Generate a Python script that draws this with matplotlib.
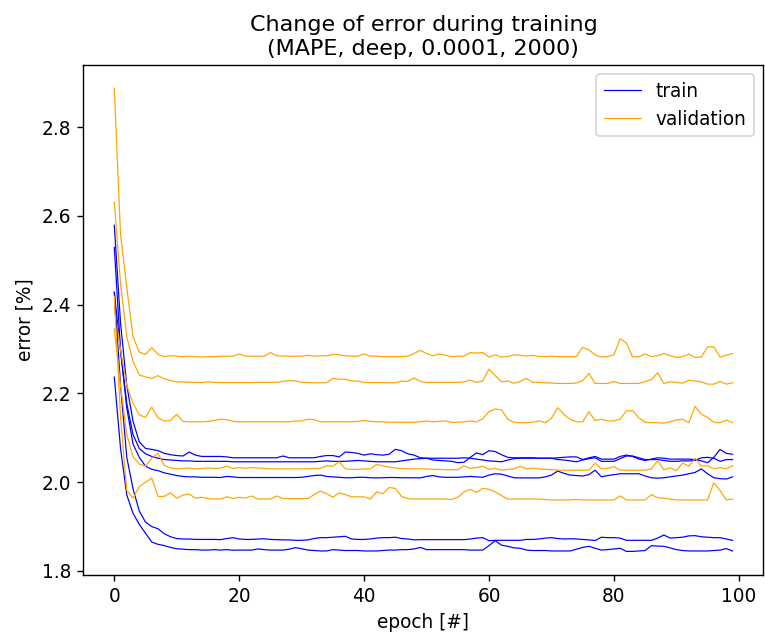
'''
    error curves of the repeated training runs
'''

import numpy as np
import matplotlib
matplotlib.use("Agg")
import matplotlib.pyplot as plt


# epochs of each run
epochs = list(range(100))

# training error per run [%]
train_1 = [2.579, 2.358, 2.218, 2.137, 2.091, 2.076, 2.074, 2.071, 2.065, 2.062,
           2.060, 2.059, 2.068, 2.061, 2.058, 2.058, 2.058, 2.058, 2.057, 2.055,
           2.055, 2.055, 2.055, 2.055, 2.055, 2.055, 2.055, 2.059, 2.055, 2.055,
           2.055, 2.055, 2.055, 2.058, 2.060, 2.060, 2.057, 2.068, 2.067, 2.065,
           2.061, 2.064, 2.062, 2.061, 2.063, 2.074, 2.071, 2.064, 2.061, 2.055,
           2.054, 2.050, 2.049, 2.048, 2.047, 2.044, 2.045, 2.056, 2.066, 2.062,
           2.071, 2.069, 2.062, 2.056, 2.055, 2.055, 2.055, 2.055, 2.054, 2.054,
           2.054, 2.055, 2.056, 2.057, 2.057, 2.051, 2.055, 2.058, 2.052, 2.052,
           2.052, 2.058, 2.061, 2.058, 2.052, 2.049, 2.052, 2.055, 2.054, 2.052,
           2.052, 2.052, 2.052, 2.051, 2.048, 2.044, 2.056, 2.074, 2.065, 2.063]
train_2 = [2.428, 2.297, 2.177, 2.107, 2.076, 2.064, 2.058, 2.054, 2.051, 2.050,
           2.049, 2.048, 2.048, 2.047, 2.047, 2.047, 2.047, 2.047, 2.047, 2.046,
           2.046, 2.046, 2.046, 2.046, 2.046, 2.046, 2.046, 2.046, 2.046, 2.046,
           2.046, 2.046, 2.046, 2.047, 2.048, 2.047, 2.047, 2.047, 2.048, 2.049,
           2.048, 2.047, 2.046, 2.046, 2.046, 2.046, 2.048, 2.050, 2.052, 2.053,
           2.054, 2.054, 2.054, 2.054, 2.054, 2.054, 2.055, 2.054, 2.052, 2.050,
           2.048, 2.047, 2.046, 2.050, 2.053, 2.054, 2.054, 2.054, 2.054, 2.054,
           2.054, 2.051, 2.050, 2.048, 2.046, 2.050, 2.053, 2.055, 2.047, 2.047,
           2.047, 2.053, 2.059, 2.059, 2.055, 2.051, 2.051, 2.051, 2.049, 2.047,
           2.047, 2.048, 2.048, 2.049, 2.055, 2.056, 2.054, 2.047, 2.051, 2.051]
train_3 = [2.529, 2.298, 2.167, 2.086, 2.056, 2.036, 2.029, 2.026, 2.021, 2.018,
           2.015, 2.013, 2.012, 2.012, 2.011, 2.011, 2.011, 2.0105, 2.013, 2.012,
           2.0105, 2.0105, 2.0105, 2.0105, 2.0105, 2.0105, 2.0105, 2.0105, 2.0105, 2.0105,
           2.011, 2.013, 2.015, 2.016, 2.013, 2.012, 2.011, 2.010, 2.010, 2.011,
           2.011, 2.010, 2.0097, 2.010, 2.0105, 2.0105, 2.010, 2.010, 2.010, 2.0097,
           2.013, 2.015, 2.012, 2.011, 2.011, 2.011, 2.012, 2.013, 2.012, 2.011,
           2.016, 2.019, 2.018, 2.014, 2.010, 2.0097, 2.0097, 2.0097, 2.0097, 2.012,
           2.016, 2.025, 2.020, 2.016, 2.015, 2.014, 2.017, 2.027, 2.012, 2.015,
           2.017, 2.019, 2.019, 2.019, 2.019, 2.014, 2.010, 2.009, 2.010, 2.012,
           2.014, 2.016, 2.019, 2.022, 2.030, 2.019, 2.010, 2.008, 2.007, 2.012]
train_4 = [2.428, 2.218, 2.056, 1.985, 1.935, 1.910, 1.900, 1.895, 1.884, 1.877,
           1.873, 1.872, 1.872, 1.871, 1.871, 1.871, 1.871, 1.8705, 1.873, 1.875,
           1.872, 1.871, 1.871, 1.872, 1.8725, 1.871, 1.8705, 1.870, 1.870, 1.869,
           1.869, 1.870, 1.873, 1.875, 1.875, 1.876, 1.877, 1.878, 1.872, 1.871,
           1.871, 1.872, 1.874, 1.875, 1.875, 1.876, 1.873, 1.872, 1.870, 1.8705,
           1.8705, 1.8705, 1.8705, 1.8705, 1.8705, 1.8705, 1.8705, 1.872, 1.874, 1.875,
           1.868, 1.869, 1.869, 1.869, 1.869, 1.869, 1.871, 1.871, 1.872, 1.874,
           1.875, 1.873, 1.872, 1.8725, 1.872, 1.871, 1.870, 1.8685, 1.876, 1.875,
           1.875, 1.874, 1.869, 1.869, 1.869, 1.869, 1.869, 1.874, 1.881, 1.874,
           1.875, 1.876, 1.879, 1.8795, 1.877, 1.876, 1.875, 1.875, 1.872, 1.869]
train_5 = [2.237, 2.076, 1.971, 1.930, 1.905, 1.885, 1.865, 1.860, 1.857, 1.853,
           1.850, 1.849, 1.848, 1.848, 1.847, 1.847, 1.848, 1.847, 1.848, 1.8466,
           1.847, 1.847, 1.847, 1.8495, 1.848, 1.847, 1.847, 1.847, 1.849, 1.8525,
           1.850, 1.847, 1.846, 1.845, 1.845, 1.848, 1.847, 1.846, 1.846, 1.846,
           1.845, 1.845, 1.845, 1.846, 1.847, 1.847, 1.848, 1.848, 1.8495, 1.853,
           1.848, 1.848, 1.848, 1.848, 1.848, 1.848, 1.848, 1.847, 1.847, 1.847,
           1.857, 1.8683, 1.858, 1.8555, 1.852, 1.851, 1.847, 1.846, 1.846, 1.846,
           1.845, 1.845, 1.845, 1.845, 1.849, 1.853, 1.8555, 1.851, 1.847, 1.848,
           1.8495, 1.851, 1.844, 1.844, 1.845, 1.846, 1.857, 1.856, 1.8555, 1.852,
           1.848, 1.846, 1.845, 1.845, 1.845, 1.845, 1.846, 1.847, 1.8503, 1.845]

# validation error per run [%]
val_1 = [2.888, 2.558, 2.438, 2.328, 2.293, 2.288, 2.303, 2.288, 2.283, 2.285,
         2.284, 2.283, 2.284, 2.283, 2.282, 2.283, 2.283, 2.284, 2.284, 2.284,
         2.289, 2.284, 2.284, 2.284, 2.284, 2.292, 2.285, 2.284, 2.284, 2.284,
         2.284, 2.286, 2.284, 2.285, 2.285, 2.288, 2.287, 2.285, 2.284, 2.284,
         2.289, 2.284, 2.284, 2.283, 2.283, 2.283, 2.283, 2.284, 2.290, 2.297,
         2.290, 2.285, 2.289, 2.286, 2.283, 2.284, 2.284, 2.292, 2.291, 2.292,
         2.282, 2.287, 2.282, 2.283, 2.287, 2.286, 2.284, 2.286, 2.283, 2.283,
         2.284, 2.283, 2.283, 2.283, 2.283, 2.304, 2.298, 2.287, 2.282, 2.283,
         2.287, 2.323, 2.314, 2.282, 2.283, 2.289, 2.283, 2.285, 2.290, 2.285,
         2.281, 2.283, 2.289, 2.281, 2.282, 2.305, 2.305, 2.282, 2.286, 2.290]
val_2 = [2.631, 2.448, 2.328, 2.272, 2.242, 2.237, 2.234, 2.240, 2.233, 2.229,
         2.226, 2.226, 2.225, 2.225, 2.2245, 2.226, 2.225, 2.2245, 2.2245, 2.2245,
         2.2245, 2.2245, 2.2245, 2.225, 2.225, 2.225, 2.225, 2.227, 2.229, 2.228,
         2.225, 2.2245, 2.224, 2.224, 2.224, 2.234, 2.232, 2.232, 2.228, 2.228,
         2.2245, 2.2245, 2.2245, 2.2245, 2.224, 2.224, 2.228, 2.227, 2.235, 2.227,
         2.2245, 2.225, 2.225, 2.225, 2.225, 2.225, 2.226, 2.230, 2.225, 2.228,
         2.255, 2.240, 2.226, 2.228, 2.223, 2.227, 2.234, 2.225, 2.225, 2.224,
         2.2235, 2.2225, 2.2225, 2.2225, 2.2235, 2.229, 2.245, 2.2225, 2.2225, 2.2225,
         2.227, 2.2225, 2.2225, 2.2225, 2.2225, 2.227, 2.231, 2.2465, 2.2225, 2.226,
         2.225, 2.223, 2.230, 2.228, 2.226, 2.221, 2.221, 2.227, 2.221, 2.224]
val_3 = [2.393, 2.298, 2.218, 2.178, 2.152, 2.146, 2.169, 2.145, 2.138, 2.139,
         2.153, 2.137, 2.136, 2.136, 2.136, 2.137, 2.139, 2.142, 2.141, 2.137,
         2.136, 2.136, 2.136, 2.136, 2.136, 2.136, 2.136, 2.136, 2.136, 2.138,
         2.138, 2.142, 2.141, 2.136, 2.136, 2.136, 2.136, 2.136, 2.136, 2.137,
         2.139, 2.137, 2.136, 2.136, 2.135, 2.135, 2.135, 2.135, 2.135, 2.136,
         2.138, 2.136, 2.137, 2.138, 2.135, 2.135, 2.136, 2.138, 2.136, 2.143,
         2.159, 2.165, 2.163, 2.142, 2.135, 2.134, 2.134, 2.135, 2.138, 2.134,
         2.144, 2.168, 2.152, 2.142, 2.136, 2.136, 2.159, 2.139, 2.142, 2.138,
         2.138, 2.142, 2.161, 2.161, 2.145, 2.135, 2.134, 2.134, 2.133, 2.136,
         2.140, 2.142, 2.134, 2.171, 2.153, 2.146, 2.135, 2.134, 2.140, 2.134]
val_4 = [2.345, 2.217, 2.107, 2.057, 2.041, 2.036, 2.054, 2.065, 2.038, 2.032,
         2.030, 2.031, 2.032, 2.030, 2.031, 2.032, 2.031, 2.032, 2.036, 2.031,
         2.033, 2.031, 2.033, 2.032, 2.031, 2.030, 2.030, 2.030, 2.030, 2.030,
         2.030, 2.030, 2.031, 2.031, 2.037, 2.036, 2.046, 2.030, 2.029, 2.029,
         2.030, 2.030, 2.040, 2.037, 2.034, 2.032, 2.031, 2.030, 2.030, 2.030,
         2.030, 2.029, 2.029, 2.028, 2.028, 2.028, 2.037, 2.031, 2.033, 2.036,
         2.029, 2.031, 2.027, 2.029, 2.030, 2.036, 2.030, 2.032, 2.030, 2.029,
         2.028, 2.027, 2.027, 2.027, 2.027, 2.027, 2.027, 2.043, 2.030, 2.031,
         2.035, 2.027, 2.027, 2.027, 2.027, 2.027, 2.030, 2.048, 2.028, 2.032,
         2.026, 2.043, 2.036, 2.054, 2.036, 2.037, 2.030, 2.033, 2.030, 2.037]
val_5 = [2.418, 2.147, 1.981, 1.964, 1.990, 2.000, 2.009, 1.968, 1.968, 1.976,
         1.964, 1.971, 1.973, 1.964, 1.966, 1.963, 1.962, 1.962, 1.967, 1.963,
         1.966, 1.964, 1.969, 1.962, 1.962, 1.962, 1.969, 1.963, 1.963, 1.963,
         1.963, 1.963, 1.972, 1.980, 1.974, 1.966, 1.976, 1.972, 1.967, 1.967,
         1.967, 1.962, 1.978, 1.974, 1.988, 1.986, 1.968, 1.963, 1.962, 1.962,
         1.962, 1.962, 1.962, 1.962, 1.961, 1.966, 1.978, 1.984, 1.977, 1.986,
         1.984, 1.978, 1.970, 1.962, 1.962, 1.962, 1.962, 1.962, 1.962, 1.961,
         1.960, 1.960, 1.960, 1.960, 1.961, 1.960, 1.960, 1.960, 1.960, 1.960,
         1.960, 1.969, 1.960, 1.960, 1.960, 1.960, 1.972, 1.965, 1.964, 1.962,
         1.960, 1.960, 1.960, 1.960, 1.960, 1.960, 1.999, 1.981, 1.960, 1.962]

train_runs = [train_1, train_2, train_3, train_4, train_5]
val_runs = [val_1, val_2, val_3, val_4, val_5]


def main():

    #text in the reference is a bit bigger than the default
    plt.rcParams['font.size'] = 10.7

    fig, ax = plt.subplots(figsize=(6.12, 5.096), dpi=125)
    fig.subplots_adjust(left=0.109, right=0.998, bottom=0.098, top=0.898)

    #one train/validation pair per run, label only the first one
    for i in range(len(train_runs)):
        ax.plot(epochs, np.array(train_runs[i]), color='blue', linewidth=0.7,
                label='train' if i == 0 else None)
        ax.plot(epochs, np.array(val_runs[i]), color='orange', linewidth=0.7,
                label='validation' if i == 0 else None)

    ax.set_title("Change of error during training\n(MAPE, deep, 0.0001, 2000)")
    ax.set_xlabel("epoch [#]")
    ax.set_ylabel("error [%]")
    ax.legend(loc='upper right')

    fig.savefig("out.png", dpi=125)


if __name__ == "__main__":
    main()
